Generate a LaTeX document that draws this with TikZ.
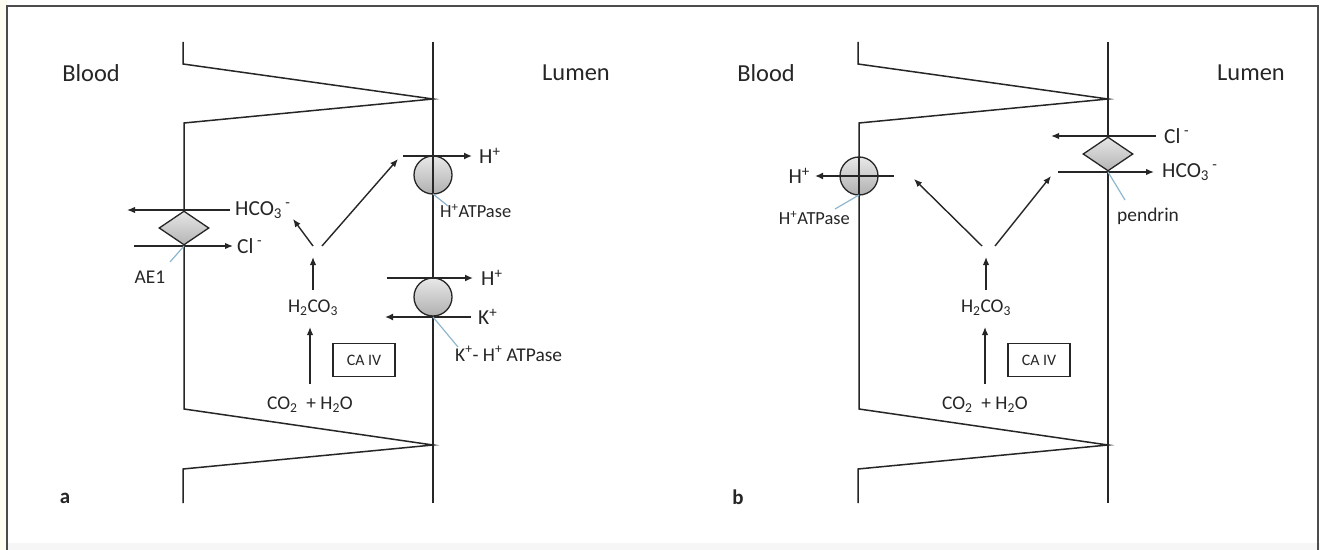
\documentclass[tikz,border=0pt]{standalone}
\usepackage{fontspec}
\setmainfont{Carlito}
\usetikzlibrary{arrows.meta,shapes.geometric}
\definecolor{ink}{HTML}{262626}
\definecolor{leadc}{HTML}{8FB6CF}
\tikzset{
  memb/.style={draw=ink, line width=1.5bp},
  arr/.style={draw=ink, line width=1.4bp, -{Latex[length=8bp,width=6.5bp]}},
  bar/.style={draw=ink, line width=2.3bp, -{Latex[length=8bp,width=7bp]}},
  pump/.style={circle, draw=ink, line width=1.3bp, minimum size=38bp, inner sep=0pt, top color=gray!18, bottom color=gray!62},
  exch/.style={diamond, draw=ink, line width=1.3bp, minimum width=50bp, minimum height=34bp, inner sep=0pt, top color=gray!20, bottom color=gray!58},
  lead/.style={draw=leadc, line width=1.2bp},
  big/.style={text=ink, font=\fontsize{24.5}{28}\selectfont, inner sep=0pt},
  ion/.style={text=ink, font=\fontsize{21.5}{25}\selectfont, inner sep=0pt},
  small/.style={text=ink, font=\fontsize{19.5}{23}\selectfont, inner sep=0pt},
  cabox/.style={draw=ink, line width=1.2bp, minimum width=62bp, minimum height=33bp, inner sep=0pt, text=ink, font=\fontsize{16}{19}\selectfont},
  panel/.style={text=ink, font=\bfseries\fontsize{21}{24}\selectfont, inner sep=0pt}
}
\begin{document}
\begin{tikzpicture}[x=1bp,y=-1bp]
\useasboundingbox (0,0) rectangle (1320,550);
\fill[white] (0,0) rectangle (1320,550);
\fill[yellow!6] (0,0) rectangle (7,550);
\fill[gray!7] (7,543) rectangle (1320,550);
\draw[gray!60!black, line width=1.2bp] (7,550) -- (7,6) -- (1318,6) -- (1318,550);

% ================= panel a =================
\node[big] (blooda) at (91,73) {Blood};
\node[big] (lumena) at (576,73) {Lumen};
\node[panel] (pa) at (65,498) {a};
\draw[memb] (183,42) -- (183,64) -- (433,99) -- (184,123) -- (184,409) -- (433,445) -- (183,469) -- (183,503);
\draw[memb] (433,42) -- (433,503);

% AE1 exchanger
\node[exch] (ae1) at (184,228) {};
\coordinate (hcoa1) at (230,210); \coordinate (hcoa2) at (127,210);
\draw[arr] (hcoa1) -- (hcoa2);
\node[ion, anchor=west] (hcoal) at (235,210) {HCO\textsubscript{3}\textsuperscript{ -}};
\coordinate (cla1) at (134,246); \coordinate (cla2) at (233,246);
\draw[arr] (cla1) -- (cla2);
\node[ion, anchor=west] (clal) at (237,246) {Cl\,\textsuperscript{-}};
\node[small] (ae1l) at (150,277) {AE1};
\coordinate (ae1p) at (184,246); \coordinate (ae1q) at (170,262);
\draw[lead] (ae1p) -- (ae1q);

% carbonic acid chemistry
\node[small] (co2a) at (310,405) {CO\textsubscript{2}~~+ H\textsubscript{2}O};
\node[small] (h2co3a) at (313,308) {H\textsubscript{2}CO\textsubscript{3}};
\node[cabox] (caa) at (364,360) {CA IV};
\coordinate (c1a) at (310,384); \coordinate (c2a) at (310,327);
\draw[arr] (c1a) -- (c2a);
\coordinate (h1a) at (313,290); \coordinate (h2a) at (313,257);
\draw[arr] (h1a) -- (h2a);
\coordinate (s1a) at (313,246); \coordinate (s2a) at (293,219);
\draw[arr] (s1a) -- (s2a);
\coordinate (l1a) at (322,246); \coordinate (l2a) at (398,159);
\draw[arr] (l1a) -- (l2a);

% H+ ATPase (upper)
\node[pump] (hatpa) at (433,175) {};
\draw[memb] (433,156) -- (433,194);
\coordinate (ba1) at (403,156); \coordinate (ba2) at (472,156);
\draw[bar] (ba1) -- (ba2);
\node[ion, anchor=west] (hpa) at (479,156) {H\textsuperscript{+}};
\coordinate (lpa1) at (433,194); \coordinate (lpa2) at (448,206);
\draw[lead] (lpa1) -- (lpa2);
\node[small, anchor=west, font=\fontsize{18.5}{22}\selectfont] (hatpal) at (440,211) {H\textsuperscript{+}ATPase};

% K+ H+ ATPase (lower)
\node[pump] (khatp) at (433,297) {};
\coordinate (bb1) at (387,278); \coordinate (bb2) at (473,278);
\draw[bar] (bb1) -- (bb2);
\node[ion, anchor=west] (hpb) at (481,278) {H\textsuperscript{+}};
\coordinate (bc1) at (471,317); \coordinate (bc2) at (385,317);
\draw[bar] (bc1) -- (bc2);
\node[ion, anchor=west] (kp) at (478,317) {K\textsuperscript{+}};
\coordinate (lk1) at (433,317); \coordinate (lk2) at (458,347);
\draw[lead] (lk1) -- (lk2);
\node[small, anchor=west] (khl) at (455,354) {K\textsuperscript{+}- H\textsuperscript{+} ATPase};

% ================= panel b =================
\node[big] (bloodb) at (766,73) {Blood};
\node[big] (lumenb) at (1251,73) {Lumen};
\node[panel] (pb) at (738,497) {b};
\draw[memb] (858,42) -- (858,64) -- (1108,99) -- (859,123) -- (859,409) -- (1108,445) -- (858,469) -- (858,503);
\draw[memb] (1108,42) -- (1108,503);

% basolateral H+ ATPase
\node[pump] (hatpb) at (859,176) {};
\draw[memb] (859,157) -- (859,195);
\coordinate (bd1) at (894,176); \coordinate (bd2) at (815,176);
\draw[bar] (bd1) -- (bd2);
\node[ion, anchor=east] (hpc) at (810,176) {H\textsuperscript{+}};
\coordinate (lpb1) at (859,195); \coordinate (lpb2) at (835,209);
\draw[lead] (lpb1) -- (lpb2);
\node[small, anchor=east, font=\fontsize{18.5}{22}\selectfont] (hatpbl) at (850,218) {H\textsuperscript{+}ATPase};

% pendrin
\node[exch] (pend) at (1108,154) {};
\coordinate (clb1) at (1156,136); \coordinate (clb2) at (1051,136);
\draw[arr] (clb1) -- (clb2);
\node[ion, anchor=west] (clbl) at (1164,136) {Cl\,\textsuperscript{-}};
\coordinate (hcb1) at (1058,172); \coordinate (hcb2) at (1154,172);
\draw[arr] (hcb1) -- (hcb2);
\node[ion, anchor=west] (hcbl) at (1162,172) {HCO\textsubscript{3}\textsuperscript{ -}};
\coordinate (lpd1) at (1108,172); \coordinate (lpd2) at (1125,200);
\draw[lead] (lpd1) -- (lpd2);
\node[small, anchor=west] (pendl) at (1117,216) {pendrin};

% chemistry b
\node[small] (co2b) at (985,405) {CO\textsubscript{2}~~+ H\textsubscript{2}O};
\node[small] (h2co3b) at (986,308) {H\textsubscript{2}CO\textsubscript{3}};
\node[cabox] (cab) at (1039,360) {CA IV};
\coordinate (c1b) at (985,384); \coordinate (c2b) at (985,327);
\draw[arr] (c1b) -- (c2b);
\coordinate (h1b) at (986,290); \coordinate (h2b) at (986,257);
\draw[arr] (h1b) -- (h2b);
\coordinate (v1b) at (982,246); \coordinate (v2b) at (914,179);
\draw[arr] (v1b) -- (v2b);
\coordinate (v3b) at (995,246); \coordinate (v4b) at (1051,176);
\draw[arr] (v3b) -- (v4b);
\end{tikzpicture}
\end{document}
